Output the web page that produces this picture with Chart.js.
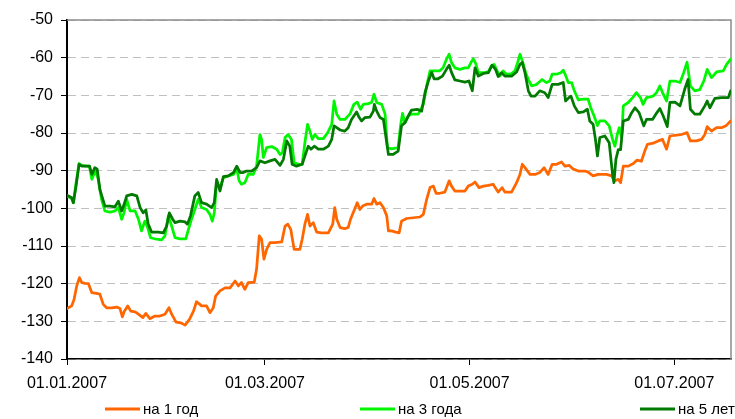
<!DOCTYPE html>
<html><head><meta charset="utf-8">
<script src="https://cdn.jsdelivr.net/npm/chart.js@4/dist/chart.umd.min.js"></script>
<style>html,body{margin:0;padding:0;background:#fff}#c{display:block}</style>
</head><body>
<canvas id="c" width="735" height="419"></canvas>
<script>
// ---- DATA ----
const seriesNames = ['на 1 год', 'на 3 года', 'на 5 лет'];
const seriesColors = ['#FF6600', '#00F500', '#007A00'];
const tickDays = [0, 59, 120, 181];           // days since 01.01.2007
const tickLabels = ['01.01.2007', '01.03.2007', '01.05.2007', '01.07.2007'];

// на 1 год
const days1 = [0,1.4,2.1,2.9,3.7,4.4,5.4,6.4,7.4,8.8,9.8,10.8,11.8,13.3,14.8,15.8,16.5,17.1,18.1,19.0,20.3,21.3,22.6,23.5,24.7,26.2,27.7,29.2,30.4,31.2,32.5,33.9,35.2,36.5,37.7,38.6,39.6,
 40.1,41.6,42.6,43.6,44.3,45.6,47.1,48.6,50.1,51.1,52.0,53.0,54.0,55.8,56.5,57.3,58.0,58.7,59.5,60.5,62.0,64.0,65.0,65.8,66.7,67.7,69.4,70.1,70.9,71.7,72.4,73.4,74.4,75.9,77.9,
 79.2,79.8,80.4,81.4,82.8,83.8,84.5,85.5,86.5,87.3,88.1,89.3,90.8,91.5,92.3,93.3,94.3,95.3,95.8,96.7,98.0,99.0,99.7,101.2,103.2,105.2,106.2,107.2,108.2,109.2,110.0,111.1,112.6,113.9,114.6,115.6,117.1,118.6,
 119.6,120.8,121.6,122.8,124.1,125.6,127.0,128.5,129.7,130.5,132.5,134.0,135.0,135.7,136.5,138.0,139.5,140.9,142.2,143.4,144.6,145.9,147.4,148.4,149.7,150.9,152.4,154.4,155.5,156.8,158.3,
 160.8,162.3,163.3,164.3,165.0,165.8,167.3,168.8,169.9,171.2,172.2,173.0,174.7,176.2,177.5,178.7,179.7,181.2,183.2,184.8,185.8,187.6,189.1,190.1,190.8,192.1,193.6,195.1,196.4,197.8];
const vals1 = [-126.6,-125.9,-124.2,-120.6,-118.4,-119.7,-119.9,-120,-122.4,-122.6,-122.8,-125.5,-126.4,-126.4,-126.2,-126.6,-128.8,-127.3,-125.9,-127.3,-127.5,-128.1,-129,-127.9,-129.3,-128.6,-128.6,-128.1,-126.4,-128.1,-130.2,-130.4,-131,-129.5,-127.3,-124.8,-125.5,
 -125.9,-125.9,-127.7,-126.4,-123.3,-121.9,-121.1,-121.1,-119.3,-120.6,-119.7,-121.5,-119.7,-119.6,-116.2,-107.3,-108.2,-113.5,-110.9,-109.1,-109.1,-108.9,-104.7,-104.2,-105.6,-110.9,-110.9,-108.2,-104.2,-101.6,-104.7,-103.8,-106.3,-106.5,-106.5,
 -104.2,-99.8,-102.9,-105.1,-105.4,-105.1,-102.9,-100.7,-98.5,-100.3,-99.4,-98.9,-98.9,-97.4,-98.9,-98.5,-99.8,-102,-106,-106,-106.3,-106.5,-103.4,-102.7,-102.5,-102.3,-101.6,-97.6,-94.5,-94.1,-96,-96,-95.7,-92.7,-94.1,-95.4,-95.4,-95.4,
 -94.1,-93.6,-93,-94.5,-94.1,-93.9,-93.6,-95.7,-94.5,-95.7,-95.7,-93.2,-91,-88.3,-89.2,-91,-91,-90.5,-89.2,-91,-88.3,-88.3,-87.7,-88.8,-88.6,-89.6,-90.1,-90.1,-90.5,-91.4,-91,
 -91,-91.4,-92.7,-92.3,-93.2,-88.8,-88.8,-88.1,-87.2,-87.5,-84.8,-83,-82.7,-82.1,-81.7,-84.3,-80.8,-80.6,-80.4,-79.9,-82.1,-82.1,-81.7,-80.4,-78.3,-79.5,-78.6,-78.6,-78.1,-76.8];

// на 3 года
const days3 = [0,1.4,1.9,2.7,3.6,4.4,5.9,6.7,7.4,7.8,8.6,9.3,10.3,11.3,12.8,14.3,15.3,16.3,17.0,17.8,18.8,20.3,21.3,22.2,23.2,23.9,24.9,26.7,28.2,29.2,30.2,31.2,32.2,33.7,35.4,36.2,37.1,38.1,
 39.1,40.1,41.6,42.6,43.3,43.9,44.6,45.6,46.6,48.1,49.6,50.6,51.3,52.0,53.0,54.0,55.5,56.5,57.5,58.0,58.5,59.5,61.0,62.5,63.5,64.2,65.0,65.9,66.9,67.7,69.1,70.1,70.9,71.7,72.4,73.1,73.9,74.9,76.4,77.7,
 78.9,79.6,80.4,81.4,82.8,84.3,85.5,86.5,87.5,88.3,89.8,90.8,91.5,92.3,93.8,94.8,95.5,96.7,98.7,99.4,100.0,100.7,101.7,102.7,104.7,106.2,107.2,108.2,109.7,111.1,112.1,113.1,113.9,114.6,115.6,117.1,118.6,
 119.6,120.4,121.1,121.8,122.6,124.1,125.6,126.5,127.3,128.2,129.0,130.0,131.0,132.5,133.5,134.3,135.0,135.7,136.7,137.5,138.5,139.7,140.6,141.6,142.9,143.9,144.6,145.9,147.2,147.9,148.6,149.4,150.4,151.2,152.4,153.9,155.3,156.1,157.1,158.1,158.8,
 160.3,161.6,162.6,163.3,164.0,164.6,165.3,165.8,167.3,168.6,169.7,170.9,171.7,172.7,174.7,175.7,176.7,177.7,178.7,179.7,181.2,182.7,183.8,184.8,185.8,187.1,188.6,189.8,190.8,192.1,193.6,195.6,196.6,197.8];
const vals3 = [-96.7,-97.4,-98.5,-93.2,-88.1,-88.6,-88.8,-88.8,-92.3,-91.4,-90.1,-92.3,-97.6,-100.7,-101,-100.7,-99.8,-102.9,-101.2,-97.6,-100.7,-100.7,-102.9,-106,-103.4,-104.7,-107.8,-108.2,-108.4,-107.3,-102,-104.7,-107.8,-108.1,-108.1,-105.6,-102.9,-100.3,
 -97.6,-99.8,-100.3,-101.6,-103.4,-101.2,-93.2,-94.5,-91.9,-91.4,-91,-89.5,-92.7,-93.6,-93.2,-91,-91,-88.8,-80.4,-81.7,-86.5,-83.9,-83.6,-84.3,-85.7,-85.2,-81.2,-80.4,-81.7,-87.9,-88.3,-88.3,-82.6,-77.7,-79.5,-81.7,-80.4,-81.5,-81.5,-79.9,
 -77.7,-71.5,-75,-76.4,-76.4,-75,-72.4,-71.8,-73.7,-72.4,-72.2,-71.9,-69.7,-71.9,-72.4,-75,-83.9,-84.2,-83.9,-78.1,-74.8,-77.3,-75.5,-75,-75,-72.4,-67.5,-63.5,-63.5,-63.5,-62.7,-60.4,-59.1,-61.3,-62.7,-63.1,-62.7,
 -62.7,-61.3,-60.3,-61.5,-64,-64,-63.7,-62.2,-61.8,-63.5,-64.9,-63.5,-64.4,-64.2,-63.5,-61.3,-59.1,-60.8,-64,-65.8,-67.5,-67.2,-66.6,-65.8,-66.6,-66.2,-64.4,-64.4,-64,-63.3,-64.7,-66.6,-66.6,-68.8,-71.2,-71,-71,-73.3,-75.5,-78,-76.8,
 -76.8,-78.1,-81.7,-83.5,-80.4,-78.6,-81.2,-72.8,-71.9,-70.6,-69.3,-70.6,-72.4,-70.6,-70.2,-69.3,-67.5,-69.7,-71.5,-66.2,-66.2,-66.6,-64,-61.2,-67.5,-68.8,-68.5,-66.2,-63.1,-65.3,-63.8,-63.5,-61.8,-60.4];

// на 5 лет
const days5 = [0,1.4,1.9,2.7,3.6,4.4,6.7,7.4,8.3,9.0,9.8,11.3,12.8,14.3,15.3,16.3,17.0,17.8,19.3,20.8,21.8,22.7,23.5,24.2,25.2,27.2,28.7,29.7,30.5,31.5,32.2,33.7,35.2,35.9,36.8,38.1,
 39.1,40.1,41.6,43.1,43.9,44.6,45.6,46.6,48.1,49.6,50.6,51.6,52.5,53.5,55.0,56.5,57.5,59.0,60.5,62.0,63.5,64.5,65.5,66.4,67.1,68.4,70.1,70.9,71.9,72.7,73.7,74.9,76.4,77.9,
 78.9,79.6,80.4,81.4,82.8,83.8,84.8,86.3,87.1,87.8,88.8,90.3,91.3,91.6,92.3,93.3,94.3,95.3,95.8,97.2,98.7,99.7,100.7,102.0,102.7,104.4,105.7,106.7,107.7,108.7,109.4,110.6,111.9,113.1,113.9,114.6,115.6,117.1,118.6,
 119.8,120.8,121.6,122.6,124.1,125.6,126.7,127.7,128.5,129.5,130.5,132.5,134.0,135.0,135.7,136.5,137.5,138.3,139.5,140.9,142.4,143.4,144.6,146.4,147.9,148.6,149.6,150.2,151.2,152.4,153.9,155.1,155.8,156.8,157.5,158.1,158.8,
 160.3,161.6,162.6,163.0,163.6,164.3,165.0,165.8,167.3,168.3,169.3,170.5,171.9,172.7,174.5,175.5,176.7,177.7,178.9,179.7,181.2,182.7,184.1,185.1,185.8,187.1,188.6,190.1,190.8,191.6,193.1,195.1,197.1,197.8];
const vals5 = [-96.5,-97.2,-98.5,-94.1,-88.3,-88.8,-88.8,-91,-89.2,-89.6,-95,-99.4,-99.4,-99.6,-98.1,-100.7,-99,-96.7,-96.3,-96.7,-99.8,-101.2,-100.4,-104.2,-106.3,-106.3,-106.5,-104.7,-101.2,-102.9,-103.8,-103.4,-103.6,-104.2,-102,-96.7,
 -95.8,-98.5,-98.9,-99.8,-98.5,-92.3,-95.4,-91.6,-91.4,-90.5,-88.8,-90.5,-90.5,-90.1,-90.1,-89.2,-87.4,-87.9,-87.4,-87,-88.6,-87,-82.1,-83.5,-88.3,-88.8,-88.3,-86.1,-83.5,-84.3,-83.5,-84.3,-84.3,-83.5,
 -81.7,-78.1,-78.6,-79.2,-79.5,-78.6,-76.4,-74.4,-75.9,-76.8,-75.9,-75.8,-74.2,-72.4,-74.2,-75.9,-76.4,-82.6,-85.7,-85.7,-84.8,-78.1,-77.3,-75,-73.9,-73.7,-74.2,-69.3,-66.2,-63.9,-65.6,-65.6,-64.9,-63.1,-62,-63.9,-65.9,-66.2,-66.5,
 -66.2,-68.8,-62.7,-64.9,-64.2,-64,-62,-63.1,-65,-64,-64.9,-64.9,-63.8,-61.8,-61.3,-64,-68.8,-70.2,-70.2,-68.8,-69.3,-70.6,-67.1,-67.1,-66.6,-71.5,-70.6,-70.2,-72.8,-74.6,-74.4,-73.7,-76.8,-77.7,-81.7,-86.1,-81.2,
 -80.8,-82.6,-91,-93.2,-87,-84.4,-84.4,-76.8,-76.4,-74.6,-73.3,-74.6,-78.1,-76.4,-76.4,-75,-73.5,-75.5,-78.3,-71.9,-71.8,-72.8,-68.4,-65.8,-73.7,-75,-75,-72.8,-71.5,-73.3,-70.8,-70.6,-70.6,-68.8];

// ---- CHART ----
const FONT = "'Liberation Sans', Arial, sans-serif";
const FONT_SIZE = 16;
const LEGEND_FONT_SIZE = 15;
Chart.defaults.font.family = FONT;
Chart.defaults.font.size = FONT_SIZE;
Chart.defaults.color = '#000';

const toPts = (d, v) => d.map((x, i) => ({ x: x, y: v[i] }));

const framePlugin = {
  id: 'frame',
  beforeDatasetsDraw(chart) {
    const a = chart.chartArea, ctx = chart.ctx;
    ctx.save();
    ctx.strokeStyle = '#8c8c8c';
    ctx.lineWidth = 1.5;
    ctx.beginPath();
    ctx.moveTo(a.left, a.top);
    ctx.lineTo(a.right, a.top);
    ctx.lineTo(a.right, a.bottom);
    ctx.stroke();
    ctx.restore();
  }
};

const legendPlugin = {
  id: 'xlLegend',
  afterDraw(chart, args, opts) {
    const ctx = chart.ctx;
    ctx.save();
    ctx.font = LEGEND_FONT_SIZE + 'px ' + FONT;
    ctx.textBaseline = 'middle';
    ctx.textAlign = 'left';
    chart.data.datasets.forEach((ds, i) => {
      const x = opts.xs[i];
      ctx.strokeStyle = ds.borderColor;
      ctx.lineWidth = 3;
      ctx.beginPath();
      ctx.moveTo(x, opts.y);
      ctx.lineTo(x + opts.lineLen, opts.y);
      ctx.stroke();
      ctx.fillStyle = '#000';
      ctx.fillText(ds.label, x + opts.lineLen + 3, opts.y + 1);
    });
    ctx.restore();
  }
};

new Chart(document.getElementById('c').getContext('2d'), {
  type: 'line',
  data: {
    datasets: [
      { label: seriesNames[0], data: toPts(days1, vals1), borderColor: seriesColors[0], order: 2 },
      { label: seriesNames[1], data: toPts(days3, vals3), borderColor: seriesColors[1], order: 1 },
      { label: seriesNames[2], data: toPts(days5, vals5), borderColor: seriesColors[2], order: 0 }
    ]
  },
  options: {
    responsive: false,
    animation: false,
    devicePixelRatio: 1,
    elements: {
      line: { borderWidth: 2.75, tension: 0, fill: false, borderJoinStyle: 'round', borderCapStyle: 'round' },
      point: { radius: 0, hoverRadius: 0 }
    },
    layout: { padding: { left: 0, right: 4, top: 20, bottom: 0 } },
    plugins: {
      legend: { display: false },
      tooltip: { enabled: false },
      xlLegend: { xs: [105, 360, 640], y: 409, lineLen: 35 }
    },
    scales: {
      x: {
        type: 'linear', min: 0, max: 197.9,
        afterBuildTicks: s => { s.ticks = tickDays.map(v => ({ value: v })); },
        afterFit: s => { s.height = 60; },
        ticks: {
          autoSkip: false, maxRotation: 0, padding: 9,
          callback: v => { const i = tickDays.indexOf(v); return i >= 0 ? tickLabels[i] : ''; }
        },
        grid: { drawOnChartArea: false, drawTicks: true, tickLength: 6, tickColor: '#000', tickWidth: 1 },
        border: { color: '#000', width: 1.5 }
      },
      y: {
        min: -140, max: -50,
        afterFit: s => { s.width = 67; },
        ticks: { stepSize: 10, padding: 8, callback: v => String(v) },
        grid: { color: '#c0c0c0', lineWidth: 1, tickColor: '#000', tickLength: 6, drawTicks: true },
        border: { color: '#000', width: 2, dash: [8, 5] }
      }
    }
  },
  plugins: [framePlugin, legendPlugin]
});
</script>
</body></html>
